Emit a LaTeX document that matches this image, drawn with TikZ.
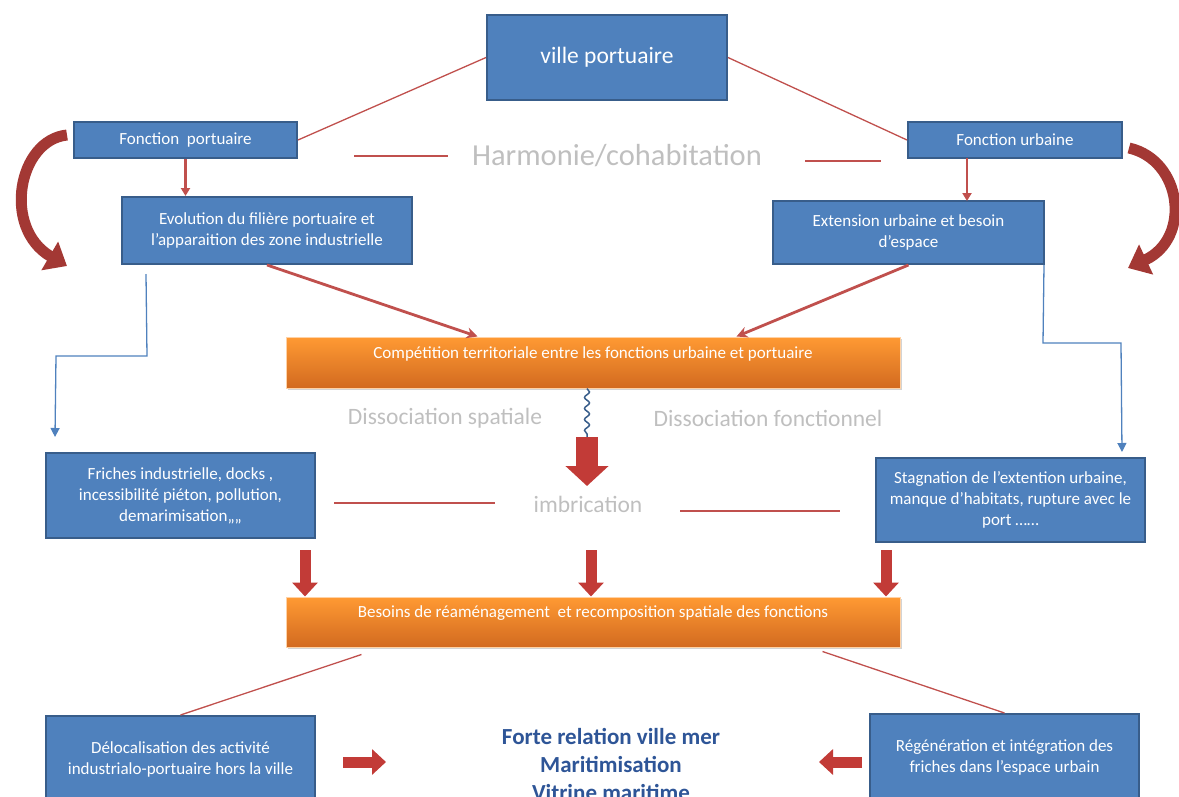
\documentclass[tikz,border=0pt]{standalone}
\usepackage{fontspec}
\setmainfont{Carlito}
\usetikzlibrary{arrows.meta,decorations.pathmorphing,shadows,calc}
\definecolor{boxblue}{HTML}{4F81BD}
\definecolor{boxborder}{HTML}{385D8A}
\definecolor{conred}{HTML}{C0504D}
\definecolor{arrowred}{HTML}{C23B37}
\definecolor{darkred}{HTML}{A33834}
\definecolor{orangetop}{HTML}{FF9A33}
\definecolor{orangebot}{HTML}{D26A20}
\definecolor{graytext}{HTML}{BFBFBF}
\definecolor{boldblue}{HTML}{2E5597}
\definecolor{wireblue}{HTML}{4F81BD}
\tikzset{
  bluebox/.style={draw=boxborder, line width=2pt, fill=boxblue, text=white, align=center,
    inner sep=0pt, font=\fontsize{17}{21}\selectfont},
  orangebox/.style={top color=orangetop, bottom color=orangebot, draw=orange!35, line width=1pt,
    text=white, inner sep=0pt, font=\fontsize{17}{20}\selectfont,
    drop shadow={opacity=0.35, shadow xshift=2pt, shadow yshift=-2pt}},
  graylabel/.style={text=graytext, inner sep=0pt, font=\fontsize{23.5}{26}\selectfont},
  thinred/.style={draw=conred, line width=1.3pt},
  thickred/.style={draw=conred, line width=2.8pt, -{Stealth[length=11pt,width=11pt]}},
  downred/.style={draw=conred, line width=2.2pt, -{Triangle[length=8pt,width=9pt]}},
  elbowblue/.style={draw=wireblue, line width=1.3pt, -{Triangle[length=9pt,width=9pt]}},
  blockarrow/.style={draw=arrowred, line width=11pt, -{Triangle[length=14pt,width=25pt]}},
  bigblockarrow/.style={draw=arrowred, line width=22pt, -{Triangle[length=20pt,width=42pt]}},
  curvearrow/.style={draw=darkred, line width=11pt, -{Triangle[length=20pt,width=32pt]}},
}
\begin{document}
\begin{tikzpicture}[x=1pt,y=-1pt]
\useasboundingbox (0,0) rectangle (1179,796);
\clip (0,0) rectangle (1179,796);

% nodes
\node[bluebox, minimum width=240pt, minimum height=85pt, font=\fontsize{23.5}{27}\selectfont] (ville) at (607,57.5) {ville portuaire};
\node[bluebox, minimum width=223pt, minimum height=36pt] (fport) at (185.5,140) {Fonction\ \ portuaire};
\node[bluebox, minimum width=214pt, minimum height=36pt] (furb) at (1015,140) {Fonction urbaine};
\node[text=graytext, inner sep=0pt, font=\fontsize{30.5}{33}\selectfont] (harm) at (617,156) {Harmonie/cohabitation};
\node[bluebox, minimum width=290pt, minimum height=67pt] (evol) at (267,230.5) {Evolution du filière portuaire et\\l’apparaition des zone industrielle};
\node[bluebox, minimum width=271pt, minimum height=63pt] (ext) at (908.5,232.5) {Extension urbaine et besoin\\d’espace};
\node[orangebox, minimum width=614pt, text height=21pt, text depth=30pt] (comp) at (593,362.5) {Compétition territoriale entre les fonctions urbaine et portuaire};
\node[graylabel] (dspa) at (445,418) {Dissociation spatiale};
\node[graylabel] (dfon) at (768,418) {Dissociation fonctionnel};
\node[bluebox, minimum width=269pt, minimum height=85pt] (fri) at (180.5,495.5) {Friches industrielle, docks ,\\incessibilité piéton, pollution,\\demarimisation,,,,};
\node[bluebox, minimum width=269pt, minimum height=84pt] (stag) at (1010.5,500) {Stagnation de l’extention urbaine,\\manque d’habitats, rupture avec le\\port ……};
\node[graylabel] (imb) at (588,504) {imbrication};
\node[orangebox, minimum width=614pt, text height=20pt, text depth=30pt] (bes) at (593,622) {Besoins de réaménagement\ \ et recomposition spatiale des fonctions};
\node[bluebox, minimum width=269pt, minimum height=87pt] (deloc) at (180.5,759.5) {Délocalisation des activité\\industrialo-portuaire hors la ville};
\node[bluebox, minimum width=269pt, minimum height=87pt] (regen) at (1004.5,757.5) {Régénération et intégration des\\friches dans l’espace urbain};
\node[text=boldblue, align=center, inner sep=0pt, font=\fontsize{23}{28}\selectfont\bfseries] (forte) at (611,764) {Forte relation ville mer\\Maritimisation\\Vitrine maritime};

% coordinates
\coordinate (furbs) at (967,158);
\coordinate (exttop) at (967,201);
\coordinate (wavyend) at (587,437);
\coordinate (bigtip) at (587,486);
\coordinate (a1s) at (305,550);
\coordinate (a2s) at (591,550);
\coordinate (a3s) at (886,550);
\coordinate (ls) at (343,762);
\coordinate (le) at (386,762);
\coordinate (rs) at (862,762);
\coordinate (re) at (819,762);

% thin red connectors
\draw[thinred] (ville.west) -- (fport.east);
\draw[thinred] (ville.east) -- (furb.west);
\draw[thinred] (354,156) -- (448,156);
\draw[thinred] (805,161) -- (881,161);
\draw[thinred] (334,503) -- (495,503);
\draw[thinred] (680,511) -- (840,511);
\draw[thinred] ($(bes.south west)+(76,7)$) -- (deloc.north);
\draw[thinred] ($(bes.south west)+(537,4)$) -- (regen.north);

% short red down arrows
\draw[downred] (fport.south) -- (fport.south |- evol.north);
\draw[downred] (furbs) -- (exttop);

% thick red arrows to competition
\draw[thickred] (evol.south) -- ($(comp.north west)+(192,0)$);
\draw[thickred] (ext.south) -- ($(comp.north west)+(451,0)$);

% blue elbow connectors
\draw[elbowblue] ($(evol.south west)+(25,9)$) -- (147,356) -- (56,356) -- ($(fri.north west)+(10,-15)$);
\draw[elbowblue] ($(ext.south east)+(-1,0)$) -- (1043,343) -- (1121,343) -- ($(stag.north east)+(-24,-5)$);

% wavy line and big block arrow
\draw[draw=boxborder, line width=1.5pt, decorate, decoration={snake, amplitude=2.5pt, segment length=11pt}] (comp.south -| wavyend) -- (wavyend);
\draw[bigblockarrow] (wavyend) -- (bigtip);

% three block arrows into Besoins
\draw[blockarrow] (a1s) -- (a1s |- bes.north);
\draw[blockarrow] (a2s) -- (a2s |- bes.north);
\draw[blockarrow] (a3s) -- (a3s |- bes.north);

% horizontal block arrows at bottom
\draw[blockarrow] (ls) -- (le);
\draw[blockarrow] (rs) -- (re);

% curved arrows
\draw[curvearrow] ($(fport.west)+(-6,-5)$) .. controls (18,140) and (2,228) .. (67,266);
\draw[curvearrow] ($(furb.east)+(6,8)$) .. controls (1182,160) and (1192,238) .. (1128,268);
\end{tikzpicture}
\end{document}
